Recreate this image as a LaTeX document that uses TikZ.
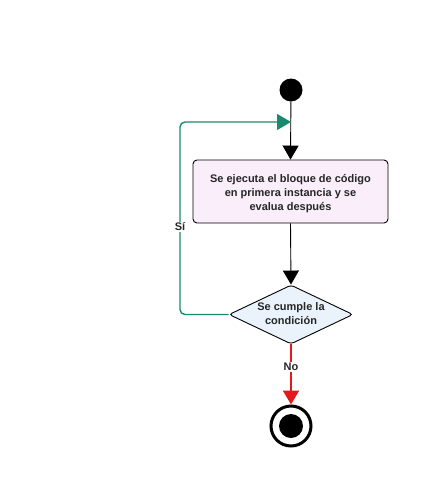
\documentclass[tikz,border=0pt]{standalone}
\usepackage{fontspec}
\setmainfont{Liberation Sans}
\usetikzlibrary{arrows.meta,shapes.geometric}
\definecolor{boxfill}{HTML}{FAEEFB}
\definecolor{diafill}{HTML}{EAF3FC}
\definecolor{loopgreen}{HTML}{1A8A6E}
\definecolor{nored}{HTML}{E3191B}
\begin{document}
\begin{tikzpicture}[x=1pt,y=-1pt,
  txt/.style={font=\fontsize{11}{14}\selectfont\bfseries, text=black!85, align=center},
  tip/.style={-{Triangle[length=14pt,width=16pt]}},
  lbl/.style={font=\fontsize{11}{13}\selectfont\bfseries, text=black!85, fill=white, inner sep=1pt}]
\useasboundingbox (0,0) rectangle (428,485);
% start
\node[circle, fill=black, minimum size=23pt, inner sep=0pt] (start) at (291,90) {};
% action box
\node[draw=black, line width=0.9pt, fill=boxfill, rounded corners=4pt,
  minimum width=195pt, minimum height=63pt] (act) at (290.5,191.5) {};
\node[txt] (acttxt) at (290.5,194) {Se ejecuta el bloque de código\\en primera instancia y se\\evalua después};
% decision
\node[draw=black, line width=0.9pt, fill=diafill, diamond, aspect=2.1,
  minimum width=124pt, minimum height=59pt, inner sep=0pt, rounded corners=3pt] (dec) at (291,314.5) {};
\node[txt] (dectxt) at (291,313.5) {Se cumple la\\condición};
% end
\node[circle, draw=black, line width=3pt, minimum size=40pt, inner sep=0pt] (endo) at (291,426) {};
\node[circle, fill=black, minimum size=24pt, inner sep=0pt] (endi) at (291,426) {};
\coordinate (join) at (291,122);
\coordinate (corner) at (180,122);
% connectors
\draw[black, line width=0.9pt, tip] (start) -- (act.north);
\draw[black, line width=0.9pt, tip] (act.south) -- (dec.north);
\draw[nored, line width=2pt, tip] (dec.south) -- node[lbl, pos=0.37] {No} (endo.north);
\draw[loopgreen, line width=1.4pt, rounded corners=5pt, tip] (dec.west) -| (corner) -- (join);
\node[lbl] (si) at (180,227) {Sí};
\end{tikzpicture}
\end{document}
